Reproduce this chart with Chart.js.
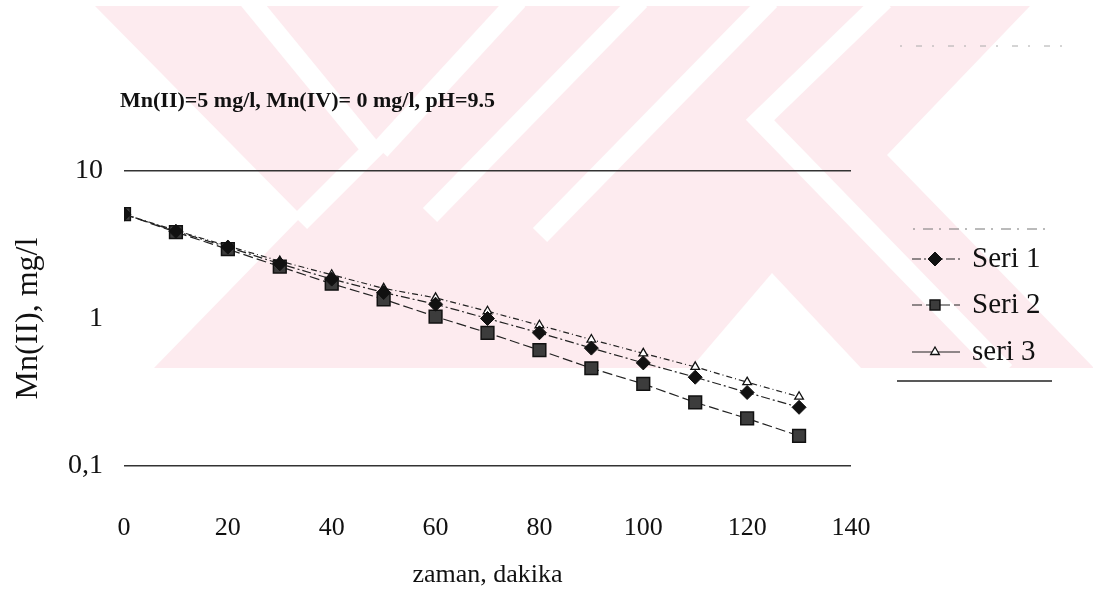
<!DOCTYPE html>
<html>
<head>
<meta charset="utf-8">
<script src="https://cdn.jsdelivr.net/npm/chart.js@4.4.1/dist/chart.umd.min.js"></script>
<style>
  html, body { margin: 0; padding: 0; background: #fff; }
  #wrap { width: 1093px; height: 597px; }
</style>
</head>
<body>
<div id="wrap"><canvas id="mnChart"></canvas></div>
<script>
// zaman (dakika) ve Mn(II) konsantrasyonlari (mg/l)
const zaman = [0, 10, 20, 30, 40, 50, 60, 70, 80, 90, 100, 110, 120, 130];
const seri1 = [5.1, 3.9, 3.05, 2.35, 1.85, 1.5, 1.25, 1.0, 0.8, 0.63, 0.5, 0.4, 0.315, 0.25];
const seri2 = [5.1, 3.85, 2.95, 2.25, 1.72, 1.35, 1.03, 0.8, 0.61, 0.46, 0.36, 0.27, 0.21, 0.16];
const seri3 = [5.1, 3.95, 3.1, 2.45, 1.98, 1.6, 1.38, 1.12, 0.9, 0.72, 0.58, 0.47, 0.37, 0.295];
const seriNames = ['Seri 1', 'Seri 2', 'seri 3'];

const xTicks = [0, 20, 40, 60, 80, 100, 120, 140];
const yTicks = [0.1, 1, 10];
const yTickLabels = ['0,1', '1', '10'];

const chartTitle = 'Mn(II)=5 mg/l, Mn(IV)= 0 mg/l, pH=9.5';
const xTitle = 'zaman, dakika';
const yTitle = 'Mn(II), mg/l';

const serif = "'Liberation Serif', 'Times New Roman', serif";

function pts(vals) {
    return zaman.map((t, i) => ({ x: t, y: vals[i] }));
}

// soluk pembe filigran (arka plan)
const watermark = {
    id: 'watermark',
    beforeDraw(chart) {
        const c = chart.ctx;
        c.save();
        c.fillStyle = '#fff';
        c.fillRect(0, 0, chart.width, chart.height);
        c.fillStyle = '#fdebef';
        c.beginPath();
        [[95, 6], [1030, 6], [887, 155], [1093, 367], [1093, 368], [154, 368], [302, 216]]
            .forEach((p, i) => i ? c.lineTo(p[0], p[1]) : c.moveTo(p[0], p[1]));
        c.closePath();
        c.fill();
        c.strokeStyle = '#fff';
        c.lineWidth = 20;
        c.lineJoin = 'miter';
        const gaps = [
            [[249, 0], [372, 150], [300, 222]],
            [[518, 0], [380, 150]],
            [[640, 0], [430, 215]],
            [[770, 0], [540, 235]],
            [[884, 0], [760, 120], [1005, 372]]
        ];
        gaps.forEach(g => {
            c.beginPath();
            g.forEach((p, i) => i ? c.lineTo(p[0], p[1]) : c.moveTo(p[0], p[1]));
            c.stroke();
        });
        c.fillStyle = '#fff';
        c.beginPath();
        c.moveTo(772, 273); c.lineTo(862, 369); c.lineTo(690, 369);
        c.closePath();
        c.fill();
        c.restore();
    }
};

// baslik, lejant ve kenar cizgileri
const extras = {
    id: 'extras',
    afterDraw(chart) {
        const c = chart.ctx;
        c.save();
        c.fillStyle = '#111';
        c.font = 'bold 22px ' + serif;
        c.textBaseline = 'middle';
        c.textAlign = 'left';
        c.fillText(chartTitle, 120, 101);

        // lejant
        const rows = [259, 305, 352];
        chart.data.datasets.forEach((ds, i) => {
            const y = rows[i];
            c.strokeStyle = '#222';
            c.lineWidth = 1.2;
            c.setLineDash(i === 2 ? [] : ds.borderDash);
            c.beginPath();
            c.moveTo(912, y);
            c.lineTo(960, y);
            c.stroke();
            c.setLineDash([]);
            c.fillStyle = ds.pointBackgroundColor;
            c.strokeStyle = ds.pointBorderColor;
            c.lineWidth = ds.pointBorderWidth;
            Chart.helpers.drawPoint(c, {
                pointStyle: ds.pointStyle,
                radius: i === 1 ? 7 : ds.pointRadius,
                borderWidth: ds.pointBorderWidth,
                rotation: 0
            }, 935, y);
            c.fillStyle = '#111';
            c.font = '29px ' + serif;
            c.textBaseline = 'middle';
            c.fillText(ds.label, 972, y);
        });

        c.strokeStyle = '#777';
        c.lineWidth = 1;
        c.setLineDash([2, 8, 10, 6]);
        c.beginPath();
        c.moveTo(913, 229); c.lineTo(1053, 229);
        c.stroke();
        c.strokeStyle = '#aaa';
        c.setLineDash([2, 14, 6, 10]);
        c.beginPath();
        c.moveTo(900, 46); c.lineTo(1063, 46);
        c.stroke();
        c.setLineDash([]);
        c.strokeStyle = '#222';
        c.lineWidth = 1.5;
        c.beginPath();
        c.moveTo(897, 381); c.lineTo(1052, 381);
        c.stroke();
        c.restore();
    }
};

const ctx = document.getElementById('mnChart').getContext('2d');
const mnChart = new Chart(ctx, {
    type: 'line',
    data: {
        datasets: [{
            label: seriNames[0],
            data: pts(seri1),
            borderColor: '#222',
            borderWidth: 1.2,
            borderDash: [9, 3, 2, 3],
            pointStyle: 'rectRot',
            pointRadius: 7,
            pointBackgroundColor: '#111',
            pointBorderColor: '#111',
            pointBorderWidth: 1
        }, {
            label: seriNames[1],
            data: pts(seri2),
            borderColor: '#222',
            borderWidth: 1.2,
            borderDash: [10, 4],
            pointStyle: 'rect',
            pointRadius: 9,
            pointBackgroundColor: '#3c3c3c',
            pointBorderColor: '#111',
            pointBorderWidth: 1.5
        }, {
            label: seriNames[2],
            data: pts(seri3),
            borderColor: '#222',
            borderWidth: 1.2,
            borderDash: [6, 3, 1, 3],
            pointStyle: 'triangle',
            pointRadius: 5,
            pointBackgroundColor: '#fff',
            pointBorderColor: '#111',
            pointBorderWidth: 1.3
        }]
    },
    options: {
        responsive: true,
        maintainAspectRatio: false,
        animation: false,
        layout: { padding: { top: 171, right: 242, left: 0, bottom: 0 } },
        plugins: {
            legend: { display: false },
            title: { display: false },
            tooltip: { enabled: false }
        },
        scales: {
            x: {
                type: 'linear',
                min: 0,
                max: 140,
                afterBuildTicks: scale => { scale.ticks = xTicks.map(v => ({ value: v })); },
                afterFit: scale => { scale.height = 131; },
                grid: { display: false },
                border: { display: false },
                ticks: {
                    color: '#111',
                    padding: 39,
                    maxRotation: 0,
                    font: { family: serif, size: 26 }
                },
                title: {
                    display: true,
                    text: xTitle,
                    color: '#111',
                    padding: { top: 0, bottom: 6 },
                    font: { family: serif, size: 26 }
                }
            },
            y: {
                type: 'logarithmic',
                min: 0.1,
                max: 10,
                afterBuildTicks: scale => { scale.ticks = yTicks.map(v => ({ value: v })); },
                afterFit: scale => { scale.width = 124; },
                grid: {
                    drawTicks: false,
                    lineWidth: 1.5,
                    color: c => (c.tick && (c.tick.value === 10 || c.tick.value === 0.1)) ? '#333' : 'rgba(0,0,0,0)'
                },
                border: { display: false },
                ticks: {
                    color: '#111',
                    padding: 21,
                    font: { family: serif, size: 28 },
                    callback: v => {
                        const i = yTicks.indexOf(v);
                        return i >= 0 ? yTickLabels[i] : '';
                    }
                },
                title: {
                    display: true,
                    text: yTitle,
                    color: '#111',
                    padding: { top: 9, bottom: 0 },
                    font: { family: serif, size: 32 }
                }
            }
        }
    },
    plugins: [watermark, extras]
});
</script>
</body>
</html>
